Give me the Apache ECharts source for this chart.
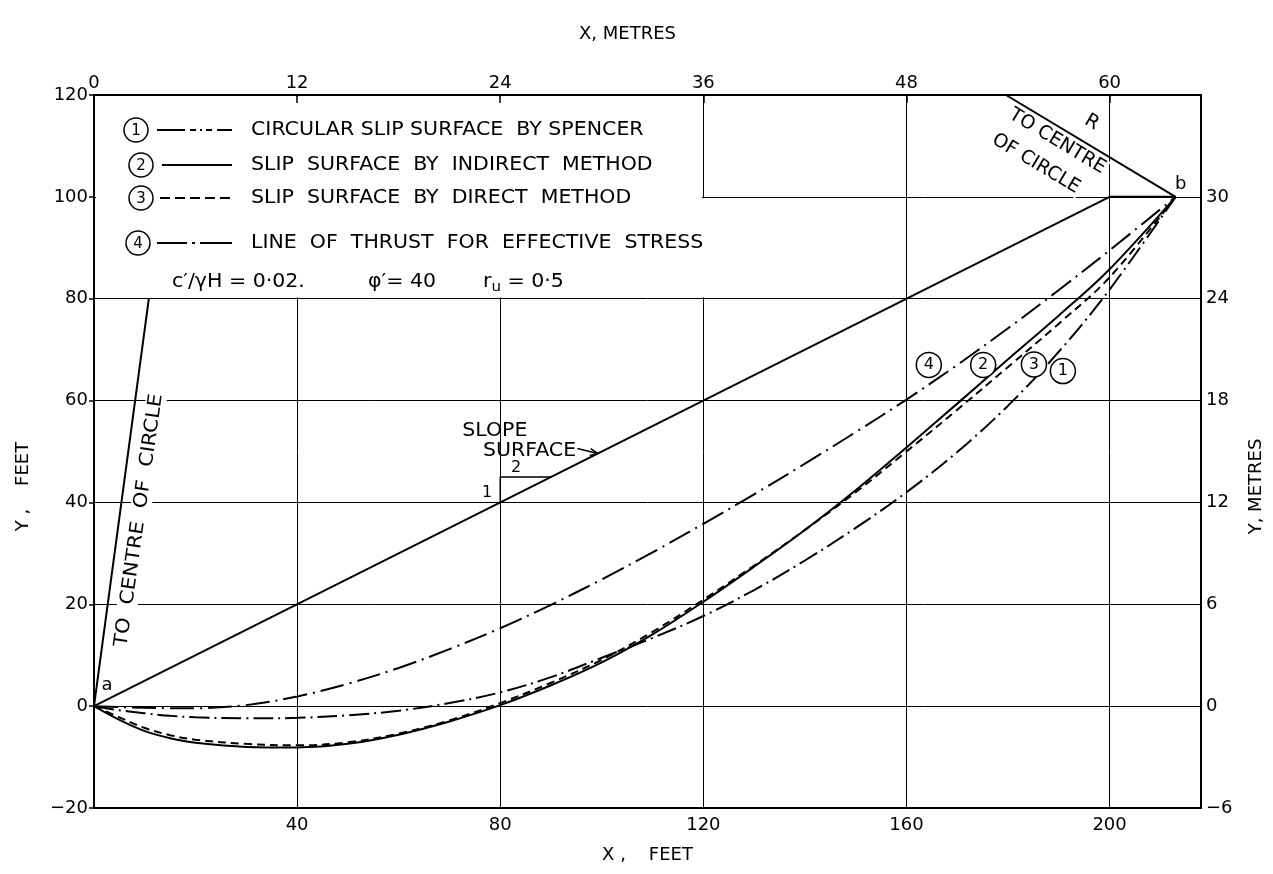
<!DOCTYPE html>
<html>
<head>
<meta charset="utf-8">
<script src="https://cdn.jsdelivr.net/npm/echarts@6.0.0/dist/echarts.min.js"></script>
<style>
  html, body { margin: 0; padding: 0; background: #fff; }
  #chart { width: 1273px; height: 874px; }
</style>
</head>
<body>
<div id="chart"></div>
<script>
// stations along the slope (feet) shared by all four curves
const stationFt = [0, 5, 10, 15, 20, 30, 40, 50, 60, 70, 80, 90, 100, 110, 120, 130, 140, 150, 160, 170, 180, 190, 200, 213];
// 1 - circular slip surface (Spencer)
const spencerY = [0, -0.8, -1.4, -1.9, -2.2, -2.4, -2.3, -1.8, -0.9, 0.6, 2.7, 5.7, 9.5, 13.4, 17.7, 22.8, 28.6, 35.0, 42.0, 49.9, 59.0, 69.6, 81.8, 100];
// 2 - slip surface, indirect method
const indirectY = [0, -2.7, -4.9, -6.3, -7.2, -8.0, -8.1, -7.4, -5.6, -3.0, 0.2, 4.1, 8.6, 14.1, 20.5, 27.4, 34.6, 42.4, 50.8, 59.4, 68.1, 76.7, 85.8, 100];
// 3 - slip surface, direct method
const directY = [0, -2.2, -4.3, -5.7, -6.6, -7.4, -7.7, -7.1, -5.4, -2.8, 0.6, 4.6, 9.1, 14.6, 20.9, 27.6, 34.6, 42.0, 50.0, 58.2, 66.6, 75.1, 84.2, 100];
// 4 - line of thrust for effective stress
const thrustY = [0, -0.2, -0.3, -0.4, -0.4, 0.2, 1.9, 4.4, 7.5, 11.2, 15.3, 19.9, 24.9, 30.2, 35.8, 41.6, 47.6, 53.8, 60.2, 67.0, 74.2, 81.7, 89.5, 100];

// slope surface a -> crest -> b
const slopeX = [0, 200, 213];
const slopeY = [0, 100, 100];
const endNames = ['a', 'b'];
// radius lines towards the centre of the circle
const radiusA = [[0, 0], [10.8, 80]];
const radiusB = [[213, 100], [179.6, 120]];
// 1 : 2 gradient triangle
const gradX = [80, 80, 90];
const gradY = [40, 45, 45];
// circled curve numbers near b
const tagX = [164.4, 175.1, 185.1, 190.8];
const tagY = [67.0, 67.0, 67.1, 65.8];
const tagText = ['4', '2', '3', '1'];

// axes: feet (bottom / left), metres (top / right)
const feetX = { min: 0, max: 218, step: 40 };
const feetY = { min: -20, max: 120, step: 20 };
const metresX = { min: 0, max: 65.4, step: 12 };
const metresY = { min: -6, max: 36, step: 6 };

const legendTags = ['1', '2', '3', '4'];
const legendTexts = [
  'CIRCULAR SLIP SURFACE  BY SPENCER',
  'SLIP  SURFACE  BY  INDIRECT  METHOD',
  'SLIP  SURFACE  BY  DIRECT  METHOD',
  'LINE  OF  THRUST  FOR  EFFECTIVE  STRESS'
];

const INK = '#000';
const FONT = 'DejaVu Sans';
const dashes = [[20, 5, 2, 5], 'solid', [8, 5], [24, 6, 2, 6]];

function zip(xs, ys) {
  return xs.map((x, i) => [x, ys[i]]);
}
function minus(v) {
  return String(v).replace('-', '\u2212');
}

const Chart = echarts.init(document.getElementById('chart'));

function axisBase(r, z) {
  return {
    type: 'value', min: r.min, max: r.max, interval: r.step, z: z,
    axisLine: { show: true, onZero: false, lineStyle: { color: INK, width: 2 } },
    axisLabel: { color: INK, fontSize: 18, fontFamily: FONT, formatter: minus },
    nameTextStyle: { color: INK, fontSize: 18, fontFamily: FONT },
    nameLocation: 'middle'
  };
}

const curveData = [spencerY, indirectY, directY, thrustY];
const curveSeries = curveData.map((ys, i) => ({
  name: legendTexts[i],
  type: 'line',
  data: zip(stationFt, ys),
  showSymbol: false,
  smooth: 0.35,
  z: 4,
  silent: true,
  lineStyle: { color: INK, width: 2, type: dashes[i] }
}));

function plainLine(data, width) {
  return {
    type: 'line', data: data, showSymbol: false, z: 4, silent: true,
    lineStyle: { color: INK, width: width, type: 'solid' }
  };
}

const option = {
  animation: false,
  backgroundColor: '#fff',
  grid: { left: 94, right: 72, top: 95, bottom: 66 },
  xAxis: [
    Object.assign(axisBase(feetX, 1), {
      position: 'bottom',
      axisTick: { show: false },
      axisLabel: { color: INK, fontSize: 18, fontFamily: FONT, margin: 8, showMinLabel: false, showMaxLabel: false },
      splitLine: { show: true, lineStyle: { color: INK, width: 1 } },
      name: 'X ,    FEET', nameGap: 38
    }),
    Object.assign(axisBase(metresX, 3), {
      position: 'top',
      axisTick: { show: true, inside: true, length: 8, lineStyle: { color: INK, width: 1.5 } },
      axisLabel: { color: INK, fontSize: 18, fontFamily: FONT, margin: 3, showMaxLabel: false },
      splitLine: { show: false },
      name: 'X, METRES', nameGap: 52,
      nameTextStyle: { color: INK, fontSize: 18, fontFamily: FONT, padding: [0, 40, 0, 0] }
    })
  ],
  yAxis: [
    Object.assign(axisBase(feetY, 1), {
      position: 'left',
      axisTick: { show: true, length: 5, lineStyle: { color: INK, width: 1.5 } },
      axisLabel: { color: INK, fontSize: 18, fontFamily: FONT, margin: 6, formatter: minus },
      splitLine: { show: true, lineStyle: { color: INK, width: 1 } },
      name: 'Y ,    FEET', nameGap: 62, nameRotate: 90,
      nameTextStyle: { color: INK, fontSize: 18, fontFamily: FONT, padding: [0, 70, 0, 0] }
    }),
    Object.assign(axisBase(metresY, 3), {
      position: 'right',
      axisTick: { show: false },
      axisLabel: { color: INK, fontSize: 18, fontFamily: FONT, margin: 5, showMaxLabel: false, formatter: minus },
      splitLine: { show: false },
      name: 'Y, METRES', nameGap: 46, nameRotate: 90,
      nameTextStyle: { color: INK, fontSize: 18, fontFamily: FONT, padding: [0, 70, 0, 0] }
    })
  ],
  series: curveSeries.concat([
    plainLine(zip(slopeX, slopeY), 2),
    plainLine(radiusA, 2),
    plainLine(radiusB, 2),
    plainLine(zip(gradX, gradY), 1.5),
    {
      type: 'scatter', z: 10, silent: true,
      data: tagX.map((x, i) => [x, tagY[i], tagText[i]]),
      symbol: 'circle', symbolSize: 25,
      itemStyle: { color: '#fff', borderColor: INK, borderWidth: 1.5, opacity: 1 },
      label: {
        show: true, position: 'inside', color: INK, fontSize: 16, fontFamily: FONT,
        formatter: p => p.value[2]
      }
    }
  ])
};
Chart.setOption(option);

// ---- annotations (legend box, notes) ----
function px(x, y) {
  return Chart.convertToPixel({ xAxisIndex: 0, yAxisIndex: 0 }, [x, y]);
}
function txt(x, y, text, extra) {
  const style = Object.assign({
    text: text, fill: INK, fontSize: 19, fontFamily: FONT,
    align: 'left', verticalAlign: 'middle', textAlign: 'left', textVerticalAlign: 'middle'
  }, (extra && extra.style) || {});
  return Object.assign({ type: 'text', x: x, y: y, z: 6, silent: true, style: style }, extra && extra.el);
}

const g = [];
// white legend box hiding the grid
const tl = px(0, 120), tr = px(120, 120), mr = px(120, 100), br = px(120, 80), bl = px(0, 80);
g.push({
  type: 'polygon', z: 2, silent: true,
  shape: { points: [
    [tl[0] + 2, tl[1] + 2], [tr[0] - 1.5, tr[1] + 2], [mr[0] - 1.5, mr[1] + 1.5],
    [mr[0] + 2, mr[1] + 1.5], [br[0] + 2, br[1] - 1.5], [bl[0] + 2, bl[1] - 1.5]
  ] },
  style: { fill: '#fff' }
});

const rowY = [130, 165, 198, 243];
const tagCX = [136, 141, 141, 138];
const legendDash = [[28, 5, 6, 4, 2, 4, 6, 5, 40], null, [10, 5], [30, 5, 3, 5, 40]];
const lineStart = [157, 162, 160, 157];
legendTags.forEach((t, i) => {
  g.push({ type: 'circle', z: 5, silent: true, shape: { cx: tagCX[i], cy: rowY[i], r: 12 },
    style: { fill: '#fff', stroke: INK, lineWidth: 1.5 } });
  g.push(txt(tagCX[i], rowY[i] + 1, t, { style: { fontSize: 15, align: 'center', textAlign: 'center' } }));
  g.push({ type: 'line', z: 5, silent: true,
    shape: { x1: lineStart[i], y1: rowY[i], x2: 232, y2: rowY[i] },
    style: { stroke: INK, lineWidth: 2, lineDash: legendDash[i] } });
  g.push(txt(251, rowY[i], legendTexts[i], { el: { scaleX: 1.08 } }));
});
g.push(txt(172, 282, 'c\u2032/\u03b3H = 0\u00b702.', { el: { scaleX: 1.08 } }));
g.push(txt(368, 282, '\u03c6\u2032= 40', { el: { scaleX: 1.08 } }));
g.push({
  type: 'text', x: 483, y: 282, z: 6, silent: true, scaleX: 1.08,
  style: {
    text: '{r|r}{u|u}{r| = 0\u00b75}', fill: INK, verticalAlign: 'middle', textVerticalAlign: 'middle',
    rich: {
      r: { fontSize: 19, fontFamily: FONT, fill: INK, color: INK },
      u: { fontSize: 14, fontFamily: FONT, fill: INK, color: INK, padding: [10, 0, 0, 0] }
    }
  }
});

// end point letters a, b
const pa = px(slopeX[0], slopeY[0]), pb = px(slopeX[2], slopeY[2]);
g.push(txt(pa[0] + 13, pa[1] - 21, endNames[0], { style: { fontSize: 18, align: 'center', textAlign: 'center' } }));
g.push(txt(pb[0] + 5, pb[1] - 13, endNames[1], { style: { fontSize: 18, align: 'center', textAlign: 'center' } }));

// "to centre of circle" notes
const leftNote = px(8.9, 36.5);
g.push(txt(leftNote[0], leftNote[1], 'TO  CENTRE  OF  CIRCLE', {
  el: { rotation: 82 * Math.PI / 180, z: 3, scaleX: 1.1 },
  style: { align: 'center', textAlign: 'center', backgroundColor: '#fff', padding: [1, 3] }
}));
const rot = -31 * Math.PI / 180;
const rNote = px(196.5, 114.6);
g.push(txt(rNote[0], rNote[1], 'R', { el: { rotation: rot }, style: { align: 'center', textAlign: 'center' } }));
const cNote1 = px(189.7, 110.9);
g.push(txt(cNote1[0], cNote1[1], 'TO CENTRE', {
  el: { rotation: rot, z: 3 },
  style: { align: 'center', textAlign: 'center', backgroundColor: '#fff', padding: [0, 2] }
}));
const cNote2 = px(185.5, 106.5);
g.push(txt(cNote2[0], cNote2[1], 'OF CIRCLE', {
  el: { rotation: rot, z: 3 },
  style: { align: 'center', textAlign: 'center', backgroundColor: '#fff', padding: [0, 2] }
}));

// slope surface note
const sl1 = px(72.5, 54.0), sl2 = px(76.6, 50.1);
g.push(txt(sl1[0], sl1[1], 'SLOPE', { el: { scaleX: 1.08 } }));
g.push(txt(sl2[0], sl2[1], 'SURFACE', { el: { scaleX: 1.08 } }));
const ar0 = px(95.2, 50.6), ar1 = px(99.2, 49.6);
g.push({ type: 'polyline', z: 6, silent: true,
  shape: { points: [[ar0[0], ar0[1]], [ar1[0], ar1[1]]] }, style: { stroke: INK, lineWidth: 1.5, fill: null } });
g.push({ type: 'polyline', z: 6, silent: true,
  shape: { points: [[ar1[0] - 7, ar1[1] - 5], [ar1[0], ar1[1]], [ar1[0] - 8, ar1[1] + 2]] },
  style: { stroke: INK, lineWidth: 1.5, fill: null } });
const n1 = px(77.4, 41.8), n2 = px(83.1, 46.8);
g.push(txt(n1[0], n1[1], '1', { style: { fontSize: 16, align: 'center', textAlign: 'center' } }));
g.push(txt(n2[0], n2[1], '2', { style: { fontSize: 16, align: 'center', textAlign: 'center' } }));

Chart.setOption({ graphic: { elements: g } });
</script>
</body>
</html>
